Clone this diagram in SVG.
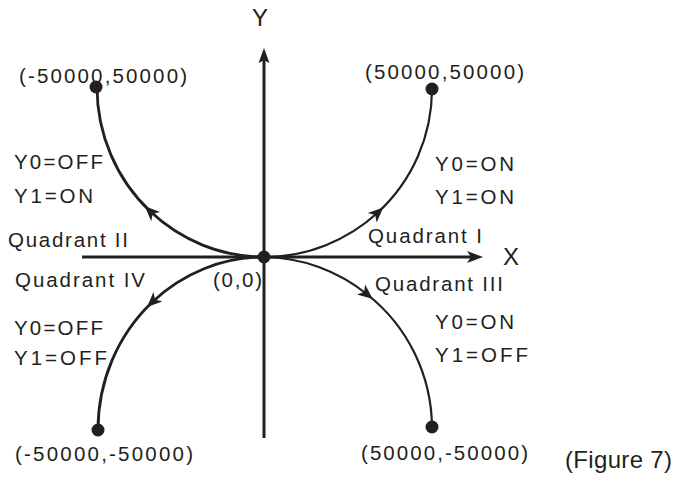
<svg xmlns="http://www.w3.org/2000/svg" width="675" height="478" viewBox="0 0 675 478">
<style>
text{font-family:"Liberation Sans",Arial,sans-serif;font-size:20.5px;fill:#231f20}
.big{font-size:24px}
.axis{stroke:#231f20;stroke-width:3;fill:none}
.arc{stroke:#231f20;fill:none;marker-mid:url(#ah)}
.dot{fill:#231f20}
</style>
<defs>
<marker id="ah" viewBox="-16 -8 18 16" markerWidth="18" markerHeight="16" refX="-7" refY="0" orient="auto" markerUnits="userSpaceOnUse" overflow="visible">
<path d="M0,0 L-15,-6.5 L-11,0 L-15,6.5 Z" fill="#231f20"/>
</marker>
</defs>
<g id="connectors">
<line class="axis" x1="264" y1="438" x2="264" y2="58"/>
<polygon points="264,48 269.5,63 264,60 258.5,63" fill="#231f20"/>
<line class="axis" x1="82" y1="257" x2="473" y2="257"/>
<polygon points="483,257 467,251 471,257 467,263" fill="#231f20"/>
<path class="arc" stroke-width="2.8" d="M264,257 A167,170 0 0 1 149.9,211.1 A167,170 0 0 1 97,87"/>
<path class="arc" stroke-width="2.2" d="M264,257 A168,168 0 0 0 378.1,212.3 A168,168 0 0 0 432,89"/>
<path class="arc" stroke-width="2.8" d="M264,257 A166,173 0 0 0 152.1,302.2 A166,173 0 0 0 98,430"/>
<path class="arc" stroke-width="2.2" d="M264,257 A168,170 0 0 1 367.3,294.5 A168,170 0 0 1 432,427"/>
</g>
<g id="axis-labels">
<text class="big" x="252" y="26">Y</text>
<text class="big" x="503" y="265">X</text>
</g>
<g id="origin">
<circle class="dot" cx="264" cy="257" r="6.5"/>
<text x="213" y="287" textLength="49" lengthAdjust="spacing">(0,0)</text>
</g>
<g id="point-q2">
<circle class="dot" cx="96" cy="87" r="6.5"/>
<text x="19" y="83" textLength="168" lengthAdjust="spacing">(-50000,50000)</text>
</g>
<g id="point-q1">
<circle class="dot" cx="432" cy="89" r="6.5"/>
<text x="365" y="79" textLength="159" lengthAdjust="spacing">(50000,50000)</text>
</g>
<g id="point-q4">
<circle class="dot" cx="98" cy="430" r="6.5"/>
<text x="15" y="461" textLength="178" lengthAdjust="spacing">(-50000,-50000)</text>
</g>
<g id="point-q3">
<circle class="dot" cx="432" cy="427" r="6.5"/>
<text x="361" y="460" textLength="167" lengthAdjust="spacing">(50000,-50000)</text>
</g>
<g id="label-q2">
<text x="14" y="169" textLength="89" lengthAdjust="spacing">Y0=OFF</text>
<text x="14" y="203" textLength="79" lengthAdjust="spacing">Y1=ON</text>
<text x="8" y="247" textLength="120" lengthAdjust="spacing">Quadrant II</text>
</g>
<g id="label-q1">
<text x="435" y="171" textLength="79" lengthAdjust="spacing">Y0=ON</text>
<text x="435" y="204" textLength="79" lengthAdjust="spacing">Y1=ON</text>
<text x="368" y="243" textLength="114" lengthAdjust="spacing">Quadrant I</text>
</g>
<g id="label-q4">
<text x="15" y="287" textLength="130" lengthAdjust="spacing">Quadrant IV</text>
<text x="14" y="335" textLength="89" lengthAdjust="spacing">Y0=OFF</text>
<text x="14" y="365" textLength="93" lengthAdjust="spacing">Y1=OFF</text>
</g>
<g id="label-q3">
<text x="375" y="291" textLength="128" lengthAdjust="spacing">Quadrant III</text>
<text x="435" y="329" textLength="79" lengthAdjust="spacing">Y0=ON</text>
<text x="435" y="362" textLength="93" lengthAdjust="spacing">Y1=OFF</text>
</g>
<g id="caption">
<text class="big" x="565" y="468" textLength="107" lengthAdjust="spacing">(Figure 7)</text>
</g>
</svg>
